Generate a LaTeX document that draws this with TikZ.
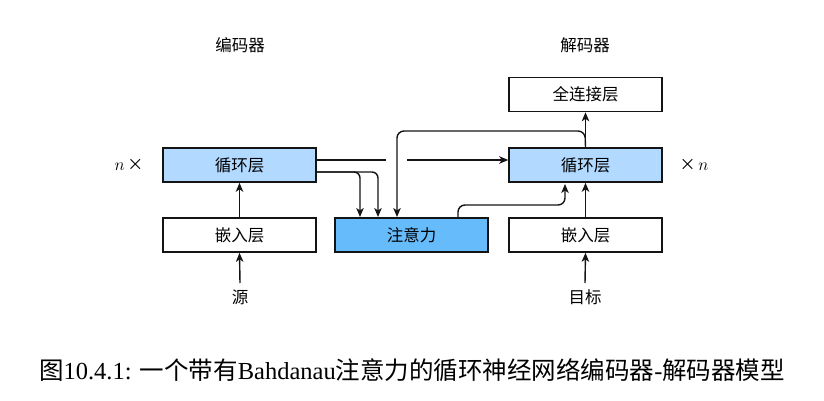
\documentclass[tikz,border=0pt]{standalone}
\usepackage{fontspec}
\newfontfamily\cjk{Noto Sans CJK SC}
\newfontfamily\capserif{Liberation Serif}
\usetikzlibrary{arrows.meta}
\definecolor{rnnfill}{RGB}{178,217,255}
\definecolor{attfill}{RGB}{102,187,250}
\definecolor{edge}{RGB}{20,20,20}
\tikzset{
  blk/.style={draw=edge, line width=1.6pt, minimum width=153pt, minimum height=34pt, inner sep=0pt, font=\cjk\fontsize{16.5}{18}\selectfont},
  lbl/.style={inner sep=0pt, font=\cjk\fontsize{16.5}{18}\selectfont},
  conn/.style={draw=edge, line width=1.4pt, -{Stealth[length=9pt,width=7.5pt,inset=2.5pt]}},
  plain/.style={draw=edge, line width=1.4pt},
}
\begin{document}
\begin{tikzpicture}[x=1pt,y=-1pt]
\useasboundingbox (0,0) rectangle (824,401);
\node[lbl] (enclbl) at (240,45) {编码器};
\node[lbl] (declbl) at (585,45) {解码器};
\node[blk] (fc) at (585.5,94.5) {全连接层};
\node[blk, fill=rnnfill] (encrnn) at (239.5,165) {循环层};
\node[blk, fill=rnnfill] (decrnn) at (585.5,165) {循环层};
\node[blk] (encemb) at (239.5,235) {嵌入层};
\node[blk, fill=attfill] (att) at (411.5,235) {注意力};
\node[blk] (decemb) at (585.5,235) {嵌入层};
\node[inner sep=0pt, font=\fontsize{16}{18}\selectfont] (nl) at (129,165) {$n$\,{\cjk ×}};
\node[inner sep=0pt, font=\fontsize{16}{18}\selectfont] (nr) at (694,165) {{\cjk ×}\,$n$};
\node[lbl] (src) at (240,297) {源};
\node[lbl] (tgt) at (585,297) {目标};
\node[inner sep=0pt, font=\capserif\fontsize{24.5}{28}\selectfont] (cap) at (412,370) {{\cjk 图}10.4.1: {\cjk 一个带有}Bahdanau{\cjk 注意力的循环神经网络编码器}-{\cjk 解码器模型}};
% encoder stack
\draw[conn] (src.north |- 0,283) -- (encemb.south);
\draw[conn] (encemb.north) -- (encrnn.south);
% decoder stack
\draw[conn] (tgt.north |- 0,283) -- (decemb.south);
\draw[conn] (decemb.north) -- (decrnn.south);
\draw[conn] (decrnn.north) -- (fc.south);
% encoder state to decoder (with gap)
\coordinate (gapL) at (386,160);
\coordinate (gapR) at (407,160);
\draw[plain] (encrnn.east |- gapL) -- (gapL);
\draw[conn] (gapR) -- (decrnn.west |- gapR);
% encoder outputs to attention
\draw[conn, rounded corners=6pt] (encrnn.east |- 0,172) -- (360,172) -- (360,217);
\draw[conn, rounded corners=6pt] (encrnn.east |- 0,172) -- (378,172) -- (378,217);
% decoder state to attention
\draw[conn, rounded corners=7pt] (decrnn.north) -- (585,131) -- (397,131) -- (397,217);
% attention to decoder
\draw[conn, rounded corners=7pt] (458,217) -- (458,205) -- (565,205) -- (565,184);
\end{tikzpicture}
\end{document}
